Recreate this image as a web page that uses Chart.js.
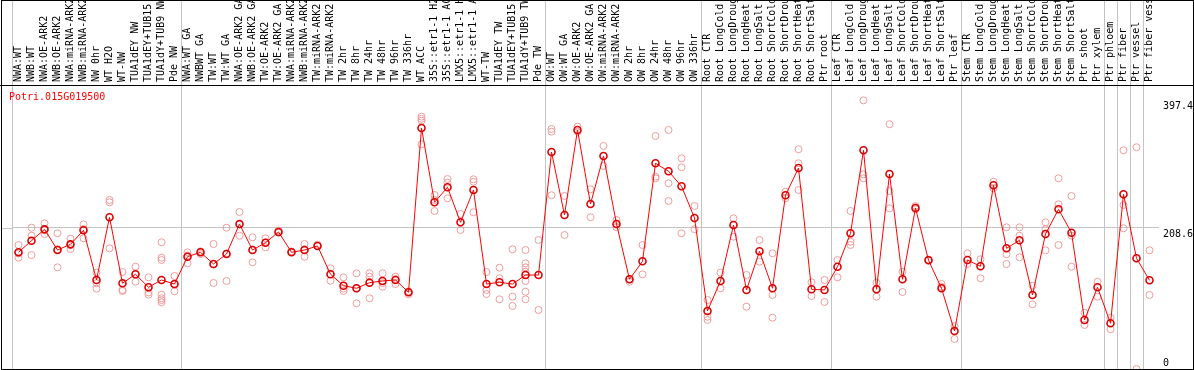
<!DOCTYPE html>
<html lang="en">
  <head>
    <meta charset="UTF-8" />
    <title>Potri.015G019500</title>
    <script src="https://cdn.jsdelivr.net/npm/chart.js"></script>
    <style>
      html,
      body {
        margin: 0;
        padding: 0;
        background-color: #ffffff;
      }
      canvas {
        display: block;
      }
    </style>
  </head>
  <body>
    <canvas id="grafico" width="1194" height="370"></canvas>

    <script>
      const geneName = "Potri.015G019500";

      const samples = [
        "NWA:WT", "NWB:WT", "NWA:OE-ARK2", "NWB:OE-ARK2", "NWA:miRNA-ARK2",
        "NWB:miRNA-ARK2", "NW 0hr", "WT H2O", "WT-NW", "TUA1dEY NW",
        "TUA1dEY+TUB15", "TUA1dY+TUB9 NW", "Pde NW",
        "NWA:WT GA", "NWBWT GA", "TW:WT", "TW:WT GA", "NWA:OE-ARK2 GA",
        "NWB:OE-ARK2 GA", "TW:OE-ARK2", "TW:OE-ARK2 GA", "NWA:miRNA-ARK2",
        "NWB:miRNA-ARK2", "TW:miRNA-ARK2", "TW:miRNA-ARK2", "TW 2hr", "TW 8hr",
        "TW 24hr", "TW 48hr", "TW 96hr", "TW 336hr", "WT ACC", "35S::etr1-1 H2",
        "35S::etr1-1 AC", "LMX5::etr1-1 H", "LMX5::etr1-1 A", "WT-TW",
        "TUA1dEY TW", "TUA1dEY+TUB15", "TUA1dY+TUB9 TW", "Pde TW",
        "OW:WT", "OW:WT GA", "OW:OE-ARK2", "OW:OE-ARK2 GA", "OW:miRNA-ARK2",
        "OW:miRNA-ARK2", "OW 2hr", "OW 8hr", "OW 24hr", "OW 48hr", "OW 96hr",
        "OW 336hr",
        "Root CTR", "Root LongCold", "Root LongDroug", "Root LongHeat",
        "Root LongSalt", "Root ShortCold", "Root ShortDrou", "Root ShortHeat",
        "Root ShortSalt", "Ptr root",
        "Leaf CTR", "Leaf LongCold", "Leaf LongDroug", "Leaf LongHeat",
        "Leaf LongSalt", "Leaf ShortCold", "Leaf ShortDrou", "Leaf ShortHeat",
        "Leaf ShortSalt", "Ptr leaf",
        "Stem CTR", "Stem LongCold", "Stem LongDroug", "Stem LongHeat",
        "Stem LongSalt", "Stem ShortCold", "Stem ShortDrou", "Stem ShortHeat",
        "Stem ShortSalt", "Ptr shoot", "Ptr xylem",
        "Ptr phloem", "Ptr fiber", "Ptr vessel", "Ptr fiber vess",
      ];

      // media de cada amostra
      const means = [
        172.6, 189.8, 206.6, 176.0, 184.4, 205.2, 131.7, 224.4, 126.8, 140.1,
        120.9, 131.7, 125.7, 166.1, 172.6, 155.3, 170.1, 214.5, 176.0, 186.8,
        202.7, 172.6, 176.0, 182.0, 140.1, 123.2, 119.4, 127.7, 130.2, 131.7,
        113.5, 356.5, 246.6, 268.8, 217.0, 264.8, 125.7, 128.3, 125.7, 139.0,
        139.0, 321.0, 227.8, 353.6, 244.1, 315.1, 214.5, 132.7, 159.3, 304.3,
        292.5, 270.3, 223.4, 85.8, 130.2, 213.0, 116.9, 174.1, 119.4, 257.0,
        297.3, 117.9, 116.9, 151.3, 200.7, 323.5, 117.9, 288.5, 132.7, 238.2,
        160.8, 119.4, 56.2, 161.2, 151.9, 271.7, 178.5, 190.4, 109.5, 199.7,
        236.2, 201.6, 72.5, 120.9, 67.6, 258.4, 163.8, 131.2,
      ];

      // replicas de cada amostra
      const replicates = [
        [183.4, 164.7, 171.0], [209.0, 197.2, 168.6], [215.5, 199.7, 205.0],
        [200.7, 150.4, 177.0], [192.8, 177.5, 183.0], [214.0, 193.3, 207.0],
        [142.5, 126.8, 118.8], [250.0, 246.6, 178.5], [143.5, 116.9, 115.4],
        [151.3, 129.1, 140.0], [135.6, 113.5, 109.9],
        [187.4, 164.7, 161.2, 109.9, 104.6, 102.0, 98.6],
        [137.6, 114.9, 125.0], [172.6, 156.3, 168.0], [174.1, 170.1],
        [184.9, 127.2, 155.0], [209.0, 130.2, 171.0], [232.2, 197.2, 214.0],
        [194.8, 157.8, 176.0], [193.3, 180.0, 187.0], [201.6, 205.0],
        [172.6, 174.0], [184.9, 166.1, 177.0], [182.0, 184.0],
        [149.0, 130.6, 140.0], [135.6, 115.4, 119.0], [141.6, 97.2, 119.0],
        [141.6, 136.5, 104.6], [141.6, 121.7, 127.0], [136.5, 125.7, 133.0],
        [110.5, 115.0], [373.2, 367.3, 332.4, 370.0], [257.4, 233.7, 250.0],
        [281.0, 275.6, 252.5], [229.3, 205.6], [280.6, 277.1, 231.8],
        [143.5, 116.9, 110.9], [149.9, 134.2, 103.1], [177.1, 107.0, 93.2],
        [176.0, 156.3, 150.4, 143.9, 130.2, 114.3, 103.1], [190.8, 87.3],
        [355.0, 351.0, 257.0], [256.0, 198.2], [358.4, 351.0], [265.8, 224.4],
        [329.9, 300.3], [220.4, 209.6], [129.1, 133.0], [183.4, 140.1],
        [344.7, 284.5, 282.1], [353.6, 274.7, 248.5], [311.7, 298.4, 200.7],
        [241.1, 206.7], [102.1, 72.5, 77.4], [142.5, 119.4], [222.9, 195.7],
        [139.0, 92.2], [190.8, 158.7], [171.2, 109.5, 75.9], [262.3, 252.5],
        [325.0, 304.3, 264.8], [128.3, 108.0], [131.7, 99.1], [161.2, 135.6],
        [233.7, 188.3, 183.4], [397.4, 288.0, 282.1], [127.7, 107.0],
        [362.0, 263.3, 237.7], [143.9, 113.9], [241.1, 236.2], [160.8, 162.0],
        [125.7, 121.7], [63.6, 44.4], [171.2, 155.3], [162.3, 134.2],
        [277.1, 267.3], [209.6, 169.7, 155.3], [209.6, 197.2, 165.2],
        [123.2, 95.7], [217.0, 206.7, 175.6], [282.1, 243.6, 183.4],
        [255.9, 197.2, 151.3], [83.3, 65.1], [129.1, 107.0], [75.9, 58.7],
        [323.5, 242.6, 208.1], [328.0, 0], [175.6, 109.5],
      ];

      const yTicks = [0, 208.6, 397.4];
      const yGrid = 208.6;
      const groupStarts = [0, 13, 41, 53, 63, 73, 84, 85, 86, 87, 88];

      const fonte = { family: "'DejaVu Sans Mono', monospace", size: 10 };
      const cinza = "#c4c4c4";
      const transparente = "rgba(0,0,0,0)";

      let repPoints = [];
      replicates.forEach((vals, i) => {
        vals.forEach((v) => repPoints.push({ x: i, y: v }));
      });

      // moldura, linha de referencia ate a borda e nome do gene
      const moldura = {
        id: "moldura",
        beforeDatasetsDraw(chart) {
          const c = chart.ctx;
          const y = Math.round(chart.scales.y.getPixelForValue(yGrid)) + 0.5;
          c.save();
          c.strokeStyle = cinza;
          c.lineWidth = 1;
          c.beginPath();
          c.moveTo(2, y);
          c.lineTo(chart.chartArea.left, y);
          c.stroke();
          c.restore();
        },
        afterDraw(chart) {
          const c = chart.ctx;
          c.save();
          c.strokeStyle = "#000000";
          c.lineWidth = 1;
          c.strokeRect(1.5, 0.5, 1192, 369);
          c.beginPath();
          c.moveTo(0, 85.5);
          c.lineTo(1194, 85.5);
          c.stroke();
          c.fillStyle = "#ff0000";
          c.font = "10px 'DejaVu Sans Mono'";
          c.fillText(geneName, 9, 100);
          c.restore();
        },
      };

      function semPadding(s) {
        s.paddingTop = 0;
        s.paddingBottom = 0;
        s.paddingLeft = 0;
        s.paddingRight = 0;
      }

      const ctx = document.getElementById("grafico").getContext("2d");
      new Chart(ctx, {
        type: "line",
        data: {
          labels: samples,
          datasets: [
            {
              label: geneName,
              data: means,
              borderColor: "#ff0000",
              borderWidth: 1,
              pointRadius: 3.5,
              pointBorderWidth: 1.6,
              pointBorderColor: "#dd0000",
              pointBackgroundColor: transparente,
              tension: 0,
              order: 0,
            },
            {
              type: "scatter",
              label: "replicas",
              data: repPoints,
              xAxisID: "xr",
              showLine: false,
              pointRadius: 3.5,
              pointBorderWidth: 1,
              pointBorderColor: "#f09c9c",
              pointBackgroundColor: transparente,
              order: 1,
            },
          ],
        },
        options: {
          responsive: false,
          animation: false,
          devicePixelRatio: 1,
          layout: {
            autoPadding: false,
            padding: { left: 12, right: 0, top: 0, bottom: 1 },
          },
          plugins: {
            legend: { display: false },
            tooltip: { enabled: false },
          },
          scales: {
            x: {
              position: "top",
              offset: true,
              border: { display: false },
              grid: {
                offset: true,
                tickLength: 86,
                color: (c) => (groupStarts.includes(c.index) ? cinza : transparente),
              },
              ticks: {
                autoSkip: false,
                minRotation: 90,
                maxRotation: 90,
                padding: -82,
                labelOffset: 12,
                color: "#000000",
                font: fonte,
              },
              afterFit: (s) => {
                s.height = 86;
                semPadding(s);
              },
            },
            xr: { type: "linear", min: -0.5, max: 87.5, display: false },
            y: {
              position: "right",
              min: 0,
              max: 418.6,
              border: { display: false },
              grid: {
                tickLength: 3,
                color: (c) => (c.tick && c.tick.value === yGrid ? cinza : transparente),
              },
              ticks: {
                padding: 4,
                color: "#000000",
                font: fonte,
                callback: (v) => (v === 0 ? ["0", ""] : ["", String(v)]),
              },
              afterBuildTicks: (s) => {
                s.ticks = yTicks.map((v) => ({ value: v }));
              },
              afterFit: (s) => {
                s.width = 38;
                semPadding(s);
              },
            },
          },
        },
        plugins: [moldura],
      });
    </script>
  </body>
</html>
